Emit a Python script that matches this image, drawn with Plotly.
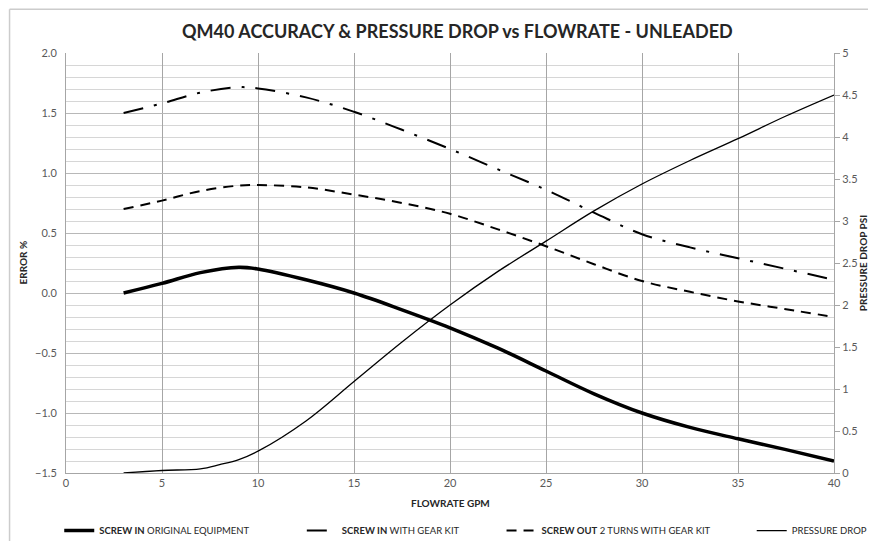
import plotly.graph_objects as go

# ---- data ----
flow = [3, 5, 7, 9, 10, 12.5, 15, 17.5, 20, 22.5, 25, 27.5, 30, 32.5, 35, 37.5, 40]
screw_in_original = [0.0, 0.08, 0.17, 0.215, 0.20, 0.11, 0.0, -0.14, -0.29, -0.46, -0.65, -0.84, -1.0, -1.12, -1.215, -1.305, -1.40]
screw_in_gear_kit = [1.5, 1.58, 1.67, 1.715, 1.705, 1.63, 1.51, 1.36, 1.2, 1.03, 0.86, 0.67, 0.49, 0.38, 0.29, 0.2, 0.11]
screw_out_gear_kit = [0.7, 0.77, 0.85, 0.895, 0.90, 0.88, 0.82, 0.75, 0.66, 0.53, 0.39, 0.24, 0.10, 0.01, -0.07, -0.135, -0.2]

flow_p = [3, 5, 7, 8, 9, 10, 12.5, 15, 17.5, 20, 22.5, 25, 27.5, 30, 32.5, 35, 37.5, 40]
pressure_drop = [0.0, 0.03, 0.05, 0.1, 0.16, 0.26, 0.62, 1.09, 1.56, 2.0, 2.4, 2.76, 3.12, 3.44, 3.72, 3.98, 4.25, 4.5]

x_ticks = [0, 5, 10, 15, 20, 25, 30, 35, 40]
names = ["<b>SCREW IN</b> ORIGINAL EQUIPMENT",
         "<b>SCREW IN</b> WITH GEAR KIT",
         "<b>SCREW OUT</b> 2 TURNS WITH GEAR KIT",
         "PRESSURE DROP"]

FONT = "Lato, 'Open Sans', sans-serif"
TXT = "#262626"

fig = go.Figure()
fig.add_trace(go.Scatter(x=flow, y=screw_in_original, name=names[0], mode="lines", legend="legend",
                         line=dict(color="black", width=3.5, shape="spline")))
fig.add_trace(go.Scatter(x=flow, y=screw_in_gear_kit, name=names[1], mode="lines", legend="legend2",
                         line=dict(color="black", width=2, shape="spline", dash="20px,11px,3px,11px")))
fig.add_trace(go.Scatter(x=flow, y=screw_out_gear_kit, name=names[2], mode="lines", legend="legend3",
                         line=dict(color="black", width=2, shape="spline", dash="10px,7px")))
fig.add_trace(go.Scatter(x=flow_p, y=pressure_drop, name=names[3], mode="lines", yaxis="y2", legend="legend4",
                         line=dict(color="black", width=1.3, shape="spline")))

def leg(x):
    return dict(orientation="h", xref="container", x=x, xanchor="left",
                yref="container", y=0.034, yanchor="middle",
                font=dict(family=FONT, size=9.5, color=TXT), bgcolor="rgba(0,0,0,0)")

axis_title_font = dict(family=FONT, size=10, color=TXT)
frame = dict(color="#cccccc", width=1.5)

fig.update_layout(
    width=876, height=541,
    paper_bgcolor="white", plot_bgcolor="white",
    margin=dict(l=57.5, r=50, t=45, b=75.7, autoexpand=False),
    font=dict(family=FONT, color="#595959", size=11),
    title=dict(text="<b>QM40 ACCURACY & PRESSURE DROP vs FLOWRATE - UNLEADED</b>",
               x=0.513, xanchor="center", yref="container", y=0.9556, yanchor="middle",
               font=dict(family=FONT, size=18, color=TXT)),
    showlegend=True,
    legend=leg(0.0585), legend2=leg(0.3354), legend3=leg(0.5634), legend4=leg(0.8490),
    xaxis=dict(range=[0, 40], tickvals=x_ticks, showgrid=True, gridcolor="#a6a6a6", gridwidth=1,
               showline=True, linecolor="#a6a6a6", zeroline=False, ticks="", automargin=False),
    yaxis=dict(range=[-1.5, 2.0], dtick=0.5, tickformat=".1f", showgrid=True, gridcolor="#b8b8b8",
               showline=True, linecolor="#a6a6a6", zeroline=False, ticks="", automargin=False,
               ticklabelstandoff=6,
               minor=dict(tickmode="linear", tick0=0, dtick=0.1, showgrid=True,
                          gridcolor="#d6d6d6", gridwidth=1, ticks="")),
    yaxis2=dict(range=[0, 5], dtick=0.5, overlaying="y", side="right", showgrid=False,
                showline=True, linecolor="#a6a6a6", zeroline=False, ticks="outside", ticklen=5,
                tickcolor="#a6a6a6", automargin=False),
    annotations=[
        dict(text="<b>FLOWRATE GPM</b>", xref="paper", yref="paper", x=0.5, y=-0.0707,
             xanchor="center", yanchor="middle", showarrow=False, font=axis_title_font),
        dict(text="<b>ERROR %</b>", xref="paper", yref="paper", x=-0.0566, y=0.5, textangle=-90,
             xanchor="center", yanchor="middle", showarrow=False, font=axis_title_font),
        dict(text="<b>PRESSURE DROP PSI</b>", xref="paper", yref="paper", x=1.038, y=0.5, textangle=-90,
             xanchor="center", yanchor="middle", showarrow=False, font=axis_title_font),
    ],
    shapes=[
        dict(type="line", xref="paper", yref="paper", x0=-0.0735, x1=-0.0735, y0=-0.19, y1=1.104,
             line=frame, layer="above"),
        dict(type="line", xref="paper", yref="paper", x0=-0.0735, x1=1.07, y0=1.104, y1=1.104,
             line=frame, layer="above"),
    ],
)

fig.write_html("out.html")
